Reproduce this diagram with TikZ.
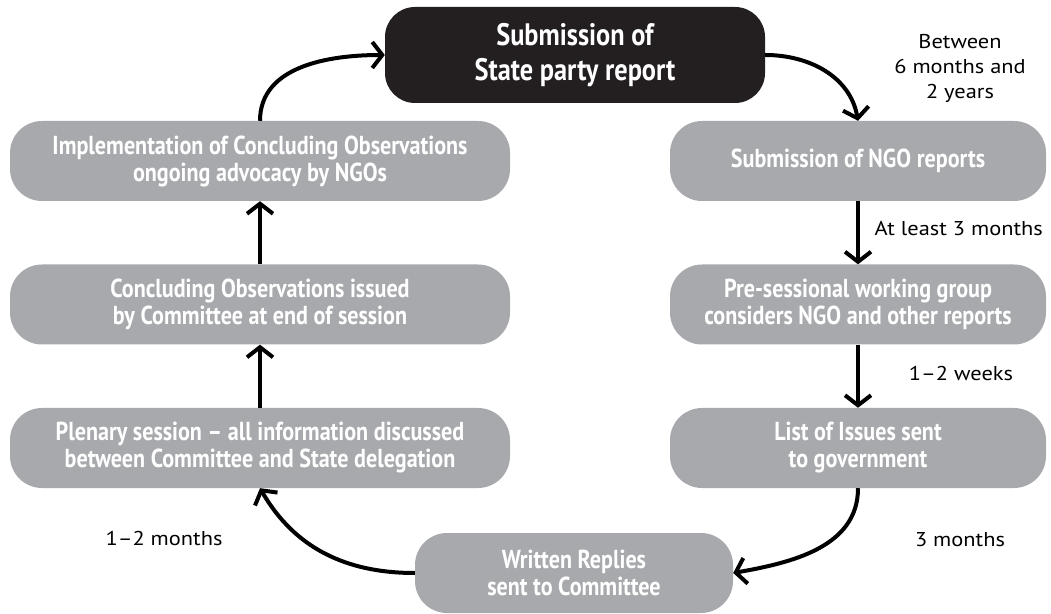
\documentclass[tikz,border=0pt]{standalone}
\usepackage{fontspec}
\setmainfont{PT Sans}
\newfontfamily\condfont{PT Sans}[FakeStretch=0.85]
\newfontfamily\labelfont{PT Sans}[FakeStretch=1.12]
\usetikzlibrary{arrows.meta}

\definecolor{boxgray}{RGB}{167,169,172}
\definecolor{boxblack}{RGB}{35,31,32}

\begin{document}
\begin{tikzpicture}[
        x = 1pt, y = 1pt,
        line join=round,
        graybox/.style = {fill=boxgray, text=white, rounded corners=32pt, inner sep=0pt,
            minimum height=80pt, align=center,
            font=\condfont\bfseries\fontsize{26}{27}\selectfont},
        blackbox/.style = {graybox, fill=boxblack, rounded corners=30pt,
            minimum width=380pt, minimum height=96pt,
            font=\condfont\bfseries\fontsize{31}{35}\selectfont},
        timelabel/.style = {align=center, font=\labelfont\fontsize{20}{25}\selectfont},
        myarrow/.style = {line width=4pt, -{Straight Barb[length=10pt,width=26pt]}}
    ]

    \useasboundingbox (0,0) rectangle (1051,613);

    \coordinate (top) at (575,558);
    \coordinate (L1) at (260,452);
    \coordinate (L2) at (260,308.5);
    \coordinate (L3) at (260,165);
    \coordinate (R1) at (858,452);
    \coordinate (R2) at (858,308.5);
    \coordinate (R3) at (858,165);
    \coordinate (bottom) at (574,40);

    \node[blackbox] (state) at (top) {Submission of\\State party report};

    \node[graybox, minimum width=500pt] (impl) at (L1)
        {Implementation of Concluding Observations\\ongoing advocacy by NGOs};
    \node[graybox, minimum width=500pt] (concl) at (L2)
        {Concluding Observations issued\\by Committee at end of session};
    \node[graybox, minimum width=500pt] (plenary) at (L3)
        {Plenary session – all information discussed\\between Committee and State delegation};

    \node[graybox, minimum width=376pt] (ngo) at (R1) {Submission of NGO reports};
    \node[graybox, minimum width=376pt] (presess) at (R2)
        {Pre-sessional working group\\considers NGO and other reports};
    \node[graybox, minimum width=376pt] (issues) at (R3)
        {List of Issues sent\\to government};

    \node[graybox, minimum width=318pt] (replies) at (bottom)
        {Written Replies\\sent to Committee};

    % time between the steps
    \node[timelabel] (t1) at (960,545) {Between\\6 months and\\2 years};
    \node[timelabel, anchor=west] (t2) at (871,384) {At least 3 months};
    \node[timelabel] (t3) at (961,239) {1–2 weeks};
    \node[timelabel] (t4) at (960,73) {3 months};
    \node[timelabel] (t5) at (164,75) {1–2 months};

    \draw[myarrow] (impl.north) to[out=90, in=180] (state.west);
    \draw[myarrow] (state.east) to[out=0, in=100] (ngo.north);
    \draw[myarrow] (ngo.south) -- (presess.north);
    \draw[myarrow] (presess.south) -- (issues.north);
    \draw[myarrow] (issues.south) to[out=-90, in=10] (replies.east);
    \draw[myarrow] (replies.west) to[out=180, in=-60] (plenary.south);
    \draw[myarrow] (plenary.north) -- (concl.south);
    \draw[myarrow] (concl.north) -- (impl.south);
\end{tikzpicture}
\end{document}
